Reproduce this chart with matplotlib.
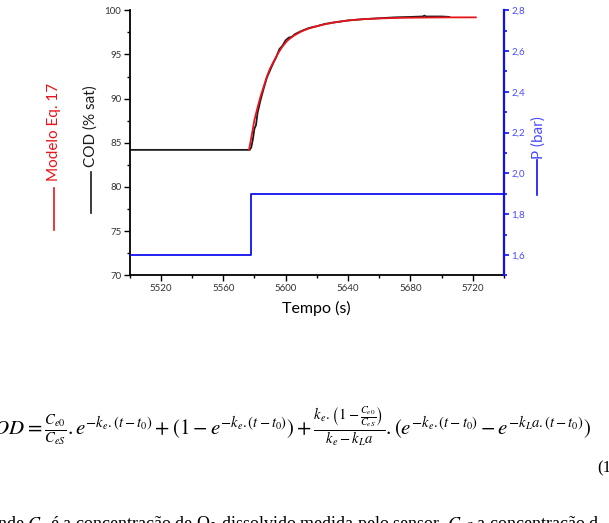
import numpy as np
import matplotlib
matplotlib.use('Agg')
import matplotlib.pyplot as plt
from matplotlib.lines import Line2D
from matplotlib.ticker import MultipleLocator, FuncFormatter

plt.rcParams['font.family'] = ['Lato', 'DejaVu Sans']
plt.rcParams['mathtext.fontset'] = 'stix'

# measured dissolved oxygen (black)
cod_t = [5500, 5577, 5578, 5579, 5580, 5581, 5582, 5584, 5586, 5588, 5590,
         5592, 5594, 5596, 5598, 5600, 5602, 5604, 5606, 5610, 5615, 5620,
         5625, 5630, 5640, 5650, 5660, 5670, 5680, 5688, 5689, 5690, 5700, 5705]
cod_v = [84.2, 84.2, 84.5, 85.4, 86.6, 87.0, 88.4, 89.9, 91.2, 92.4, 93.2,
         94.0, 94.7, 95.6, 96.0, 96.6, 96.9, 97.0, 97.3, 97.65, 98.0, 98.2,
         98.45, 98.6, 98.85, 99.0, 99.1, 99.2, 99.25, 99.3, 99.4, 99.3, 99.3, 99.25]

# model eq. 17 (red)
model_t = [5576.5, 5578, 5580, 5582, 5584, 5586, 5588, 5590, 5592, 5595, 5598,
           5601, 5605, 5610, 5615, 5620, 5626, 5632, 5640, 5650, 5660, 5675,
           5690, 5705, 5722]
model_v = [84.2, 85.6, 87.6, 89.0, 90.3, 91.4, 92.5, 93.4, 94.1, 95.1, 95.9,
           96.55, 97.1, 97.6, 97.95, 98.2, 98.45, 98.65, 98.85, 99.0, 99.08, 99.15,
           99.18, 99.2, 99.2]

# pressure (blue)
p_t = [5500, 5578, 5578, 5740]
p_v = [1.6, 1.6, 1.9, 1.9]

blue = '#1010f0'
tick_blue = '#4a4aff'

fig = plt.figure(figsize=(6.09, 5.23), dpi=100)
ax = fig.add_axes([0.213, 0.4736, 0.6144, 0.5067])
ax2 = ax.twinx()

ax.plot(cod_t, cod_v, color='#1a1a1a', lw=1.3, zorder=2)
ax.plot(model_t, model_v, color='#e8141c', lw=1.3, zorder=3)
ax2.plot(p_t, p_v, color=blue, lw=1.3)

ax.set_xlim(5500, 5740)
ax.set_ylim(70, 100)
ax2.set_ylim(1.5, 2.8)

ax.xaxis.set_minor_locator(MultipleLocator(20))
ax.set_xticks([5520, 5560, 5600, 5640, 5680, 5720])
ax.yaxis.set_major_locator(MultipleLocator(5))
ax.yaxis.set_minor_locator(MultipleLocator(2.5))
ax2.yaxis.set_minor_locator(MultipleLocator(0.1))
ax2.set_yticks([1.6, 1.8, 2.0, 2.2, 2.4, 2.6, 2.8])
ax2.yaxis.set_major_formatter(FuncFormatter(lambda v, p: f"{v:.1f}".replace('.', ',')))

for s in ['top', 'right']:
    ax.spines[s].set_visible(False)
for s in ['top', 'left', 'bottom']:
    ax2.spines[s].set_visible(False)
ax.spines['left'].set_linewidth(1.3)
ax.spines['bottom'].set_linewidth(1.3)
ax2.spines['right'].set_color(blue)
ax2.spines['right'].set_linewidth(1.6)

ax.tick_params(which='major', direction='out', length=4, width=1, labelsize=7,
               labelcolor='#333333', pad=2)
ax.tick_params(which='minor', direction='out', length=2.2, width=1)
ax2.tick_params(which='major', direction='out', length=3.5, width=1.2, labelsize=7,
                color=blue, labelcolor=tick_blue, pad=2)
ax2.tick_params(which='minor', direction='out', length=2, width=1.2, color=blue)

ax.set_xlabel('Tempo (s)', fontsize=11.5, labelpad=6)

# rotated axis labels with line keys
H = 523.0
W = 609.0
fig.text(54 / W, 1 - 132 / H, 'Modelo Eq. 17', color='#e8141c', fontsize=11,
         rotation=90, ha='center', va='center')
fig.add_artist(Line2D([54 / W, 54 / W], [1 - 188 / H, 1 - 230 / H], color='#e8141c', lw=1.2))
fig.text(91 / W, 1 - 126 / H, 'COD (% sat)', color='#1a1a1a', fontsize=11,
         rotation=90, ha='center', va='center')
fig.add_artist(Line2D([91 / W, 91 / W], [1 - 172 / H, 1 - 213 / H], color='#1a1a1a', lw=1.2))
fig.text(539 / W, 1 - 138 / H, 'P (bar)', color=tick_blue, fontsize=11,
         rotation=90, ha='center', va='center')
fig.add_artist(Line2D([537 / W, 537 / W], [1 - 160 / H, 1 - 195 / H], color=blue, lw=1.2))

# equation and text below the chart
eq = (r"$COD = \frac{C_{e0}}{C_{eS}}.e^{-k_e.(t-t_0)} + \left(1 - e^{-k_e.(t-t_0)}\right)"
      r" + \frac{k_e.\left(1-\frac{C_{e0}}{C_{eS}}\right)}{k_e - k_L a}."
      r"\left(e^{-k_e.(t-t_0)} - e^{-k_L a.(t-t_0)}\right)$")
fig.text(-20 / W, 1 - 435 / H, eq, fontsize=15, ha='left', va='baseline')
fig.text(597 / W, 1 - 472 / H, '(17)', fontsize=12, family='Liberation Serif',
         ha='left', va='baseline')
fig.text(-3 / W, 1 - 529 / H,
         r"nde $C_e$ é a concentração de O$_2$ dissolvido medida pelo sensor, $C_{eS}$ a concentração d",
         fontsize=13, family='Liberation Serif', ha='left', va='baseline')

fig.savefig('out.png', dpi=100)
